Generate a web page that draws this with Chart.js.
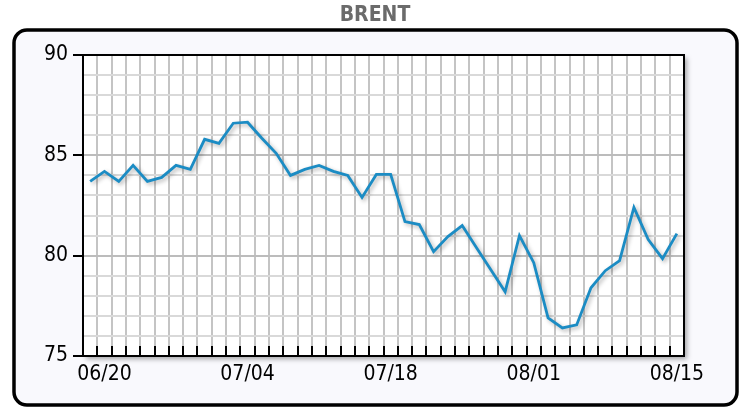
<!DOCTYPE html>
<html>
<head>
<meta charset="utf-8">
<script src="https://cdn.jsdelivr.net/npm/chart.js@4.4.0/dist/chart.umd.min.js"></script>
<style>
  body { margin: 0; background: #fff; }
  canvas { display: block; }
</style>
</head>
<body>
<canvas id="brentChart" width="742" height="408"></canvas>
<script>
const dates = [
  '06/19', '06/20', '06/21', '06/24', '06/25', '06/26', '06/27', '06/28', '07/01', '07/02',
  '07/03', '07/04', '07/05', '07/08', '07/09', '07/10', '07/11', '07/12', '07/15', '07/16',
  '07/17', '07/18', '07/19', '07/22', '07/23', '07/24', '07/25', '07/26', '07/29', '07/30',
  '07/31', '08/01', '08/02', '08/05', '08/06', '08/07', '08/08', '08/09', '08/12', '08/13',
  '08/14', '08/15'
];
const brent = [
  83.7, 84.2, 83.7, 84.5, 83.7, 83.9, 84.5, 84.3, 85.8, 85.6,
  86.6, 86.65, 85.85, 85.1, 84.0, 84.3, 84.5, 84.2, 84.0, 82.9,
  84.05, 84.05, 81.7, 81.55, 80.2, 80.95, 81.5, 80.4, 79.3, 78.2,
  81.0, 79.65, 76.9, 76.4, 76.55, 78.4, 79.25, 79.75, 82.4, 80.8,
  79.85, 81.1
];
const shownDates = ['06/20', '07/04', '07/18', '08/01', '08/15'];
const yTicks = [75, 80, 85, 90];

const axisFont = { family: '"DejaVu Sans Condensed", "DejaVu Sans", sans-serif', size: 21 };

// rounded box, title and the white plot panel with its shadow
const framePlugin = {
  id: 'frame',
  beforeDraw(chart) {
    const ctx = chart.ctx;
    const a = chart.chartArea;
    ctx.save();
    ctx.beginPath();
    ctx.roundRect(14, 30, 723, 375, 13);
    ctx.fillStyle = '#f9f9fd';
    ctx.fill();
    ctx.lineWidth = 3.5;
    ctx.strokeStyle = '#000';
    ctx.stroke();

    ctx.font = 'bold 21px "DejaVu Sans Condensed", "DejaVu Sans", sans-serif';
    ctx.fillStyle = '#6b6b6b';
    ctx.textAlign = 'center';
    ctx.textBaseline = 'middle';
    ctx.fillText('BRENT', 375, 16);

    ctx.shadowColor = 'rgba(0,0,0,0.35)';
    ctx.shadowBlur = 5;
    ctx.shadowOffsetX = 3;
    ctx.shadowOffsetY = 3;
    ctx.fillStyle = '#fff';
    ctx.fillRect(a.left, a.top, a.width, a.height);
    ctx.restore();
  },
  afterDraw(chart) {
    const ctx = chart.ctx;
    const a = chart.chartArea;
    const x = chart.scales.x;
    ctx.save();
    ctx.strokeStyle = '#000';
    ctx.lineWidth = 2;
    ctx.strokeRect(a.left, a.top, a.width, a.height);
    // short ticks inside the bottom edge
    ctx.beginPath();
    for (let i = 0; i <= dates.length; i++) {
      const px = Math.round(x.getPixelForValue(i - 0.5));
      ctx.moveTo(px, a.bottom);
      ctx.lineTo(px, a.bottom - 10);
    }
    ctx.stroke();
    ctx.restore();
  }
};

const lineShadow = {
  id: 'lineShadow',
  beforeDatasetDraw(chart) {
    const ctx = chart.ctx;
    ctx.save();
    ctx.shadowColor = 'rgba(0,0,0,0.3)';
    ctx.shadowBlur = 4;
    ctx.shadowOffsetX = 2;
    ctx.shadowOffsetY = 2;
  },
  afterDatasetDraw(chart) {
    chart.ctx.restore();
  }
};

new Chart(document.getElementById('brentChart'), {
  type: 'line',
  data: {
    labels: dates,
    datasets: [{
      label: 'BRENT',
      data: brent,
      borderColor: '#1b8cc4',
      borderWidth: 2.8,
      pointRadius: 0,
      tension: 0,
      fill: false
    }]
  },
  options: {
    responsive: false,
    animation: false,
    layout: { padding: { left: 0, top: 55, right: 58, bottom: 0 } },
    plugins: {
      legend: { display: false },
      tooltip: { enabled: false }
    },
    scales: {
      x: {
        type: 'category',
        offset: true,
        grid: { offset: true, color: '#c4c4c4', lineWidth: 2, drawTicks: false },
        border: { display: true, color: '#000', width: 2 },
        ticks: {
          autoSkip: false,
          maxRotation: 0,
          padding: 6,
          color: '#000',
          font: axisFont,
          callback(value) {
            const d = dates[value];
            return shownDates.includes(d) ? d : '';
          }
        },
        afterFit(scale) { scale.height = 52; }
      },
      y: {
        min: 75,
        max: 90,
        ticks: {
          stepSize: 1,
          autoSkip: false,
          maxTicksLimit: 20,
          padding: 5,
          color: '#000',
          font: axisFont,
          callback(value) { return yTicks.includes(value) ? value : ''; }
        },
        grid: {
          color(ctx) { return ctx.tick.value % 5 === 0 ? '#bcbcbc' : '#d9d9d9'; },
          lineWidth: 2,
          tickLength: 10,
          tickWidth: 2,
          tickColor(ctx) { return yTicks.includes(ctx.tick.value) ? '#000' : 'rgba(0,0,0,0)'; }
        },
        border: { color: '#000', width: 2 },
        afterFit(scale) { scale.width = 83; }
      }
    }
  },
  plugins: [framePlugin, lineShadow]
});
</script>
</body>
</html>
